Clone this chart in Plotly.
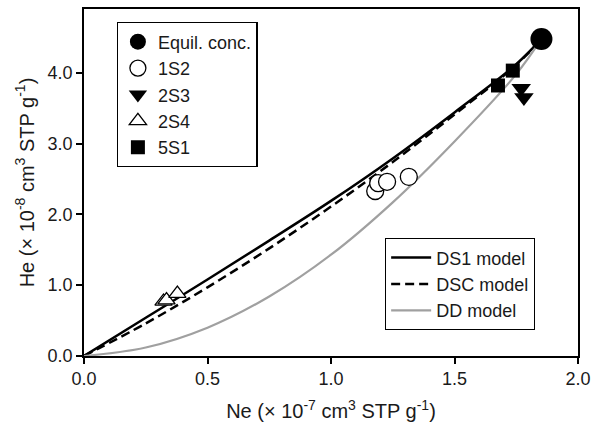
import plotly.graph_objects as go

# Model curves: He vs Ne concentrations
model_ne = [0.0, 0.25, 0.5, 0.75, 1.0, 1.25, 1.5, 1.75, 1.852]
ds1_he = [0.0, 0.54, 1.08, 1.63, 2.19, 2.79, 3.44, 4.12, 4.477]
dsc_he = [0.0, 0.46, 0.97, 1.52, 2.11, 2.74, 3.41, 4.11, 4.477]
dd_he = [0.0, 0.12, 0.40, 0.84, 1.43, 2.17, 3.03, 3.98, 4.477]

# Measured samples
equil_ne, equil_he = [1.852], [4.477]
s1s2_ne, s1s2_he = [1.179, 1.191, 1.227, 1.315], [2.33, 2.44, 2.46, 2.53]
s2s3_ne, s2s3_he = [1.770, 1.781], [3.78, 3.65]
s2s4_ne, s2s4_he = [0.322, 0.334, 0.378], [0.77, 0.79, 0.88]
s5s1_ne, s5s1_he = [1.736, 1.676], [4.03, 3.82]

x_ticks = [0.0, 0.5, 1.0, 1.5, 2.0]
y_ticks = [0.0, 1.0, 2.0, 3.0, 4.0]

FONT = "Liberation Sans, Arial, sans-serif"

fig = go.Figure()

fig.add_trace(go.Scatter(x=model_ne, y=ds1_he, mode="lines", name="DS1 model",
                         line=dict(color="black", width=2.5, shape="spline"),
                         legend="legend2"))
fig.add_trace(go.Scatter(x=model_ne, y=dsc_he, mode="lines", name="DSC model",
                         line=dict(color="black", width=2.5, dash="9px,5px", shape="spline"),
                         legend="legend2"))
fig.add_trace(go.Scatter(x=model_ne, y=dd_he, mode="lines", name="DD model",
                         line=dict(color="#a0a0a0", width=2.2, shape="spline"),
                         legend="legend2"))

fig.add_trace(go.Scatter(x=equil_ne, y=equil_he, mode="markers", name="Equil. conc.",
                         marker=dict(symbol="circle", size=22, color="black")))
fig.add_trace(go.Scatter(x=s1s2_ne, y=s1s2_he, mode="markers", name="1S2",
                         marker=dict(symbol="circle", size=17, color="white",
                                     line=dict(color="black", width=1.3))))
fig.add_trace(go.Scatter(x=s2s3_ne, y=s2s3_he, mode="markers", name="2S3",
                         marker=dict(symbol="triangle-down", size=17, color="black")))
fig.add_trace(go.Scatter(x=s2s4_ne, y=s2s4_he, mode="markers", name="2S4",
                         marker=dict(symbol="triangle-up", size=15, color="white",
                                     line=dict(color="black", width=1.3))))
fig.add_trace(go.Scatter(x=s5s1_ne, y=s5s1_he, mode="markers", name="5S1",
                         marker=dict(symbol="square", size=14, color="black")))

axis_common = dict(
    showline=True, linecolor="black", linewidth=1.6, mirror=True,
    ticks="outside", ticklen=6, tickwidth=1.5, tickcolor="black",
    showgrid=False, zeroline=False, tickformat=".1f",
    tickfont=dict(family=FONT, size=18, color="#1a1a1a"),
)

fig.update_layout(
    width=598, height=429,
    margin=dict(l=84, r=13, t=7, b=73),
    paper_bgcolor="white", plot_bgcolor="white",
    font=dict(family=FONT, size=18, color="#1a1a1a"),
    xaxis=dict(range=[0, 2.0], tickvals=x_ticks,
               title=dict(text="Ne (× 10<sup>-7</sup> cm<sup>3</sup> STP g<sup>-1</sup>)",
                          font=dict(family=FONT, size=20), standoff=16),
               **axis_common),
    yaxis=dict(range=[0, 4.9], tickvals=y_ticks,
               title=dict(text="He (× 10<sup>-8</sup> cm<sup>3</sup> STP g<sup>-1</sup>)",
                          font=dict(family=FONT, size=20), standoff=8),
               **axis_common),
    legend=dict(x=0.066, y=0.962, xanchor="left", yanchor="top",
                bgcolor="white", bordercolor="black", borderwidth=1.3,
                font=dict(family=FONT, size=18), itemsizing="trace",
                tracegroupgap=0),
    legend2=dict(x=0.609, y=0.34, xanchor="left", yanchor="top",
                 bgcolor="white", bordercolor="black", borderwidth=1.3,
                 font=dict(family=FONT, size=18), itemwidth=40),
)

fig.write_html("out.html")
